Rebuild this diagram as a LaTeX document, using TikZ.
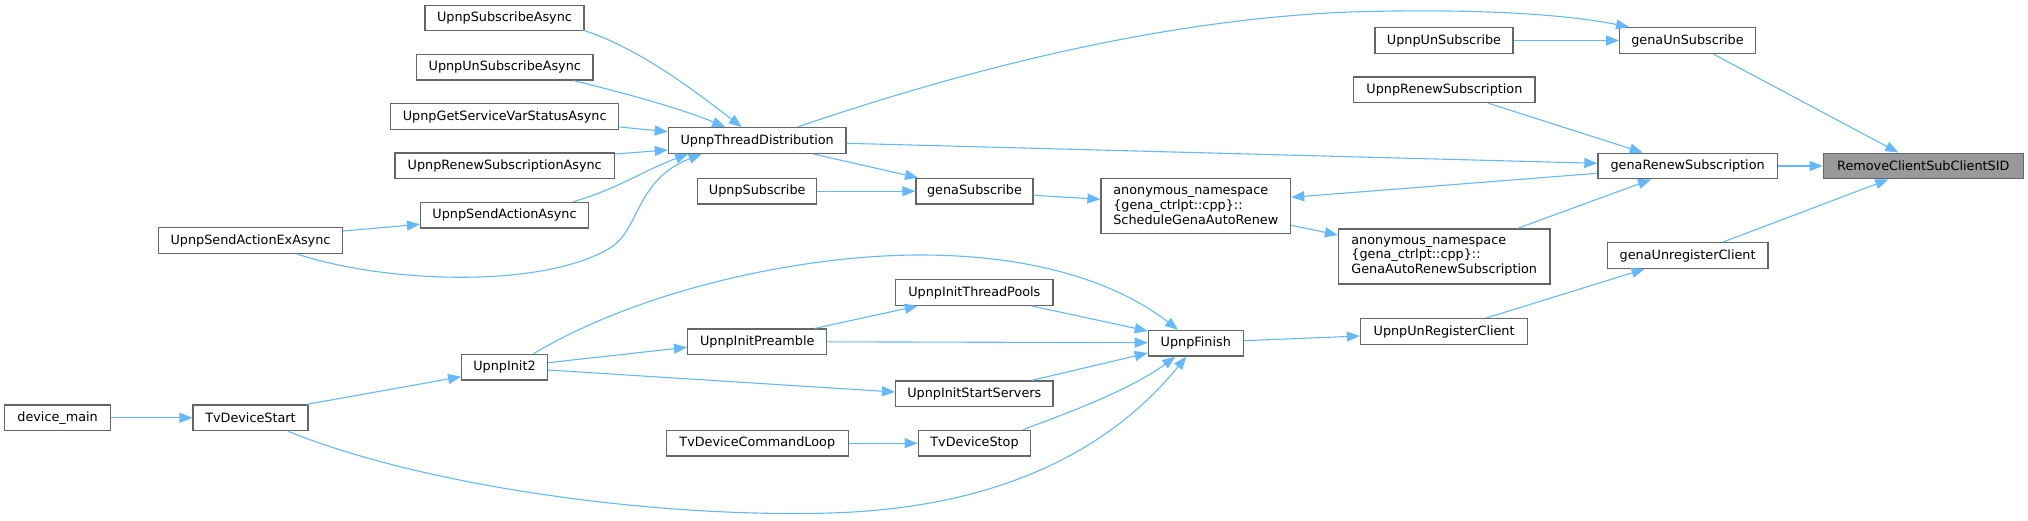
\documentclass[tikz,border=0pt]{standalone}
\usepackage{fontspec}
\setmainfont{DejaVu Sans}
\usetikzlibrary{arrows.meta}
\definecolor{edgeblue}{HTML}{63B8FF}
\definecolor{nodegray}{HTML}{666666}
\definecolor{hlgray}{HTML}{999999}
\begin{document}
\begin{tikzpicture}[x=1pt,y=-1pt,
  fn/.style={draw=nodegray, fill=white, line width=1.2pt, inner sep=0pt,
    minimum height=25.7pt, font=\fontsize{12.8}{14.7}\selectfont},
  conn/.style={draw=edgeblue, line width=1.1pt, -{Triangle[length=13pt,width=10pt]}}]
\useasboundingbox (0,0) rectangle (2028,520);
% nodes
\node[fn, minimum width=159pt] (subA) at (504.5,18) {UpnpSubscribeAsync};
\node[fn, minimum width=176.5pt] (unsubA) at (504.75,67.2) {UpnpUnSubscribeAsync};
\node[fn, minimum width=228.2pt] (getVar) at (504.7,116.5) {UpnpGetServiceVarStatusAsync};
\node[fn, minimum width=219.3pt] (renewA) at (504.7,165.8) {UpnpRenewSubscriptionAsync};
\node[fn, minimum width=168pt] (sendA) at (504.5,215.2) {UpnpSendActionAsync};
\node[fn, minimum width=184pt] (sendEx) at (250.5,240.5) {UpnpSendActionExAsync};
\node[fn, minimum width=85.7pt] (init2) at (504.5,367.2) {UpnpInit2};
\node[fn, minimum width=106.2pt] (devmain) at (57.6,417.8) {device\_main};
\node[fn, minimum width=115pt] (tvStart) at (250.5,417.8) {TvDeviceStart};
\node[fn, minimum width=177.7pt] (tdist) at (757.2,140.5) {UpnpThreadDistribution};
\node[fn, minimum width=118.7pt] (upSub) at (757.2,191.2) {UpnpSubscribe};
\node[fn, minimum width=117pt] (genaSub) at (974.5,191.2) {genaSubscribe};
\node[fn, minimum width=189.6pt, minimum height=55pt, align=left] (sched) at (1195.8,205.8) {anonymous\_namespace\\\{gena\_ctrlpt::cpp\}::\\ScheduleGenaAutoRenew};
\node[fn, minimum width=157.5pt] (pools) at (974.3,292.5) {UpnpInitThreadPools};
\node[fn, minimum width=139.3pt] (preamble) at (757.2,341.8) {UpnpInitPreamble};
\node[fn, minimum width=95pt] (finish) at (1195.8,343.2) {UpnpFinish};
\node[fn, minimum width=157.5pt] (servers) at (974.3,393.8) {UpnpInitStartServers};
\node[fn, minimum width=181.7pt] (cmdLoop) at (757.3,443.2) {TvDeviceCommandLoop};
\node[fn, minimum width=112.5pt] (tvStop) at (974.5,443.2) {TvDeviceStop};
\node[fn, minimum width=138pt] (upUnsub) at (1444,40.5) {UpnpUnSubscribe};
\node[fn, minimum width=135.7pt] (genaUnsub) at (1687.5,40.5) {genaUnSubscribe};
\node[fn, minimum width=181.3pt] (upRenew) at (1444.4,89.8) {UpnpRenewSubscription};
\node[fn, minimum width=179.4pt] (genaRenew) at (1687.6,166) {genaRenewSubscription};
\node[fn, fill=hlgray, minimum width=200pt] (remove) at (1923.3,166) {RemoveClientSubClientSID};
\node[fn, minimum width=211.5pt, minimum height=55pt, align=left] (autoRenew) at (1444.2,256.5) {anonymous\_namespace\\\{gena\_ctrlpt::cpp\}::\\GenaAutoRenewSubscription};
\node[fn, minimum width=160.8pt] (genaUnreg) at (1687.6,255.5) {genaUnregisterClient};
\node[fn, minimum width=167.4pt] (upUnreg) at (1444.1,331.5) {UpnpUnRegisterClient};
% connectors
\draw[conn] ([shift={(78,12)}]subA.center) .. controls (640,48) and (700,95) .. ([shift={(-15.5,0)}]tdist.north);
\draw[conn] ([shift={(69,0)}]unsubA.south) .. controls (620,92) and (680,108) .. ([shift={(-32,0)}]tdist.north);
\draw[conn] ([shift={(0,10.5)}]getVar.east) -- ([shift={(0,-8.8)}]tdist.west);
\draw[conn] ([shift={(0,-11.8)}]renewA.east) -- ([shift={(0,9.5)}]tdist.west);
\draw[conn] ([shift={(68.5,0)}]sendA.north) .. controls (615,190) and (645,170) .. ([shift={(-69,0)}]tdist.south);
\draw[conn] ([shift={(46.5,0)}]sendEx.south) .. controls (380,282) and (540,290) .. (610,248) .. controls (640,230) and (635,180) .. ([shift={(-55.5,0)}]tdist.south);
\draw[conn] ([shift={(0,-9.5)}]sendEx.east) -- ([shift={(0,9.1)}]sendA.west);
\draw[conn] ([shift={(40,0)}]tdist.north) .. controls (950,75) and (1150,20) .. (1350,12) .. controls (1480,8) and (1570,15) .. ([shift={(-58.5,0)}]genaUnsub.north);
\draw[conn] ([shift={(0,2.8)}]tdist.east) -- ([shift={(0,-2.7)}]genaRenew.west);
\draw[conn] ([shift={(0,7.3)}]genaRenew.west) -- ([shift={(0,-8.5)}]sched.east);
\draw[conn] ([shift={(73.3,0)}]autoRenew.north) -- ([shift={(-36.6,0)}]genaRenew.south);
\draw[conn] ([shift={(44,0)}]upRenew.south) -- ([shift={(-45,0)}]genaRenew.north);
\draw[conn] ([shift={(25.5,0)}]genaUnsub.south) -- ([shift={(-25,0)}]remove.north);
\draw[conn] (genaRenew.east) -- (remove.west);
\draw[conn] ([shift={(35.4,0)}]genaUnreg.north) -- ([shift={(-35,0)}]remove.south);
\draw[conn] (upUnsub.east) -- (genaUnsub.west);
\draw[conn] ([shift={(42,0)}]upUnreg.north) -- ([shift={(-43,0)}]genaUnreg.south);
\draw[conn] ([shift={(0,-2.5)}]finish.east) -- ([shift={(0,4.5)}]upUnreg.west);
\draw[conn] ([shift={(0,19.5)}]sched.east) -- ([shift={(0,-21.5)}]autoRenew.west);
\draw[conn] ([shift={(0,4.1)}]genaSub.east) -- ([shift={(0,-6.5)}]sched.west);
\draw[conn] (upSub.east) -- (genaSub.west);
\draw[conn] ([shift={(55.8,0)}]tdist.south) -- ([shift={(-56.5,0)}]genaSub.north);
\draw[conn] ([shift={(29,0)}]init2.north) .. controls (640,290) and (800,255) .. (920,255) .. controls (1040,255) and (1120,285) .. ([shift={(-17.8,0)}]finish.north);
\draw[conn] ([shift={(57.4,0)}]pools.south) -- ([shift={(0,-12.2)}]finish.west);
\draw[conn] (preamble.east) -- ([shift={(0,-0.5)}]finish.west);
\draw[conn] ([shift={(57.4,0)}]servers.north) -- ([shift={(0,9.8)}]finish.west);
\draw[conn] ([shift={(48.3,0)}]tvStop.north) .. controls (1070,412) and (1130,390) .. ([shift={(-20.5,0)}]finish.south);
\draw[conn] ([shift={(37.5,0)}]tvStart.south) .. controls (420,485) and (650,518) .. (830,513) .. controls (1000,508) and (1110,450) .. ([shift={(-9.5,0)}]finish.south);
\draw[conn] ([shift={(57.8,0)}]preamble.north) -- ([shift={(-56.5,0)}]pools.south);
\draw[conn] ([shift={(0,-4.5)}]init2.east) -- ([shift={(0,5.5)}]preamble.west);
\draw[conn] ([shift={(0,2.8)}]init2.east) -- ([shift={(0,-1.8)}]servers.west);
\draw[conn] ([shift={(-2,0)}]tvStart.north east) -- ([shift={(0,9.5)}]init2.west);
\draw[conn] (devmain) -- (tvStart);
\draw[conn] (cmdLoop) -- (tvStop);
\end{tikzpicture}
\end{document}
